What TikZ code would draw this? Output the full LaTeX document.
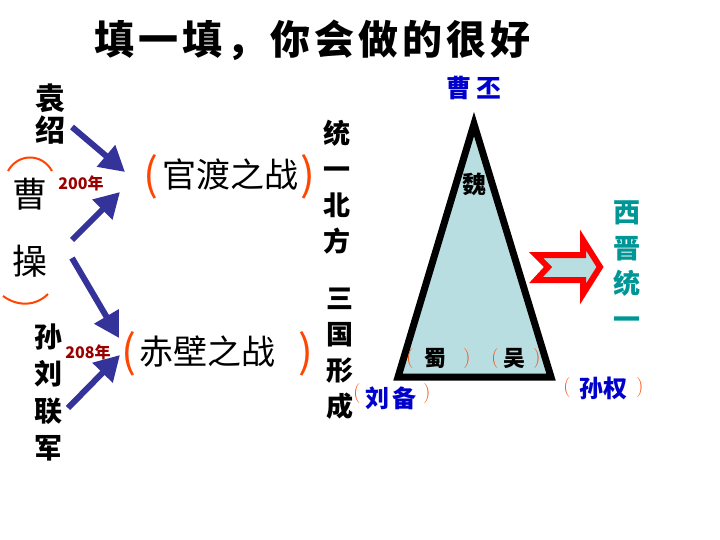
\documentclass[tikz,border=0pt]{standalone}
\usepackage{fontspec}
\usetikzlibrary{arrows.meta}
\newfontfamily\cjk{Noto Sans CJK SC}
\definecolor{navy}{RGB}{51,51,153}
\definecolor{paren}{RGB}{255,69,0}
\definecolor{darkred}{RGB}{153,0,0}
\definecolor{bluetxt}{RGB}{0,0,204}
\definecolor{tealtxt}{RGB}{0,150,150}
\definecolor{tri}{RGB}{184,222,226}
\tikzset{
  bigarrow/.style={draw=navy, line width=6pt, -{Triangle[length=25pt,width=27pt]}},
  vtxt/.style={inner sep=0pt, align=center, font=#1},
  par/.style={inner sep=0pt, text=paren},
}
\begin{document}
\begin{tikzpicture}[x=1pt,y=-1pt]
\useasboundingbox (0,0) rectangle (720,540);
\fill[white] (0,0) rectangle (720,540);
% title
\node[inner sep=0pt, font={\cjk\bfseries\fontsize{40}{40}\selectfont\addfontfeature{LetterSpace=10}}] (title) at (312,40) {填一填，你会做的很好};
% left column
\node[vtxt={\cjk\bfseries\fontsize{30}{32}\selectfont}] (yuan) at (50,114) {袁\\绍};
\node[vtxt={\cjk\fontsize{35}{67}\selectfont}] (cao) at (30,228) {曹\\操};
\draw[paren, line width=2pt] (8,171) .. controls (18,153) and (42,153) .. (52,171);
\draw[paren, line width=2pt] (3,296) .. controls (18,307) and (36,306) .. (48,294);
\node[inner sep=0pt, text=darkred, font={\cjk\bfseries\fontsize{16}{16}\selectfont}] (y200) at (81,183) {200年};
\node[vtxt={\cjk\bfseries\fontsize{28}{37}\selectfont}] (sunliu) at (48,392) {孙\\刘\\联\\军};
\node[inner sep=0pt, text=darkred, font={\cjk\bfseries\fontsize{16}{16}\selectfont}] (y208) at (88,352) {208年};
% arrows
\coordinate (a1s) at (72,127); \coordinate (a1e) at (125,172);
\coordinate (a2s) at (72,240); \coordinate (a2e) at (120,192);
\coordinate (a3s) at (72,258); \coordinate (a3e) at (119,338);
\coordinate (a4s) at (68,408); \coordinate (a4e) at (120,355);
\draw[bigarrow] (a1s) -- (a1e);
\draw[bigarrow] (a2s) -- (a2e);
\draw[bigarrow] (a3s) -- (a3e);
\draw[bigarrow] (a4s) -- (a4e);
% battles
\node[par, font={\cjk\fontsize{44}{44}\selectfont}] (gl) at (151,177) {(};
\node[inner sep=0pt, font={\cjk\fontsize{34}{34}\selectfont}] (guandu) at (230,175) {官渡之战};
\node[par, font={\cjk\fontsize{44}{44}\selectfont}] (gr) at (308,177) {)};
\node[par, font={\cjk\fontsize{44}{44}\selectfont}] (cl) at (129,354) {(};
\node[inner sep=0pt, font={\cjk\fontsize{34}{34}\selectfont}] (chibi) at (207,352) {赤壁之战};
\node[par, font={\cjk\fontsize{44}{44}\selectfont}] (cr) at (306,354) {)};
% middle column
\node[vtxt={\cjk\bfseries\fontsize{27}{36}\selectfont}] (tongyi) at (337,187) {统\\一\\北\\方};
\node[vtxt={\cjk\bfseries\fontsize{27}{36}\selectfont}] (sanguo) at (340,354) {三\\国\\形\\成};
% triangle
\coordinate (top) at (474,124);
\coordinate (bl) at (398,377);
\coordinate (br) at (551,377);
\draw[fill=tri, line width=7pt, line join=miter] (top) -- (bl) -- (br) -- cycle;
\node[inner sep=0pt, text=bluetxt, font={\cjk\bfseries\fontsize{25}{25}\selectfont}] (caopi) at (474,88) {曹\,丕};
\node[inner sep=0pt, font={\cjk\bfseries\fontsize{24}{24}\selectfont}] (wei) at (474,184) {魏};
\node[par, font={\fontsize{20}{20}\selectfont}] (sl) at (410,359) {(};
\node[inner sep=0pt, font={\cjk\bfseries\fontsize{22}{22}\selectfont}] (shu) at (435,358) {蜀};
\node[par, font={\fontsize{20}{20}\selectfont}] (sr) at (467,359) {)};
\node[par, font={\fontsize{20}{20}\selectfont}] (wl) at (495,359) {(};
\node[inner sep=0pt, font={\cjk\bfseries\fontsize{22}{22}\selectfont}] (wu) at (514,358) {吴};
\node[par, font={\fontsize{20}{20}\selectfont}] (wr) at (537,359) {)};
\node[par, font={\fontsize{20}{20}\selectfont}] (ll) at (357,394) {(};
\node[inner sep=0pt, text=bluetxt, font={\cjk\bfseries\fontsize{24}{24}\selectfont}] (liubei) at (391,398) {刘\,备};
\node[par, font={\fontsize{20}{20}\selectfont}] (lr) at (427,394) {)};
\node[par, font={\fontsize{20}{20}\selectfont}] (kl) at (567,388) {(};
\node[inner sep=0pt, text=bluetxt, font={\cjk\bfseries\fontsize{24}{24}\selectfont}] (sunquan) at (603,388) {孙权};
\node[par, font={\fontsize{20}{20}\selectfont}] (kr) at (640,388) {)};
% hollow arrow
\draw[red, fill=tri, line width=6pt, line join=miter]
  (536,255) -- (583,255) -- (583,240) -- (600,267) -- (583,294) -- (583,280) -- (536,280) -- (548,267) -- cycle;
\node[vtxt={\cjk\bfseries\fontsize{27}{35.5}\selectfont}, text=tealtxt] (xijin) at (627,265) {西\\晋\\统\\一};
\end{tikzpicture}
\end{document}
